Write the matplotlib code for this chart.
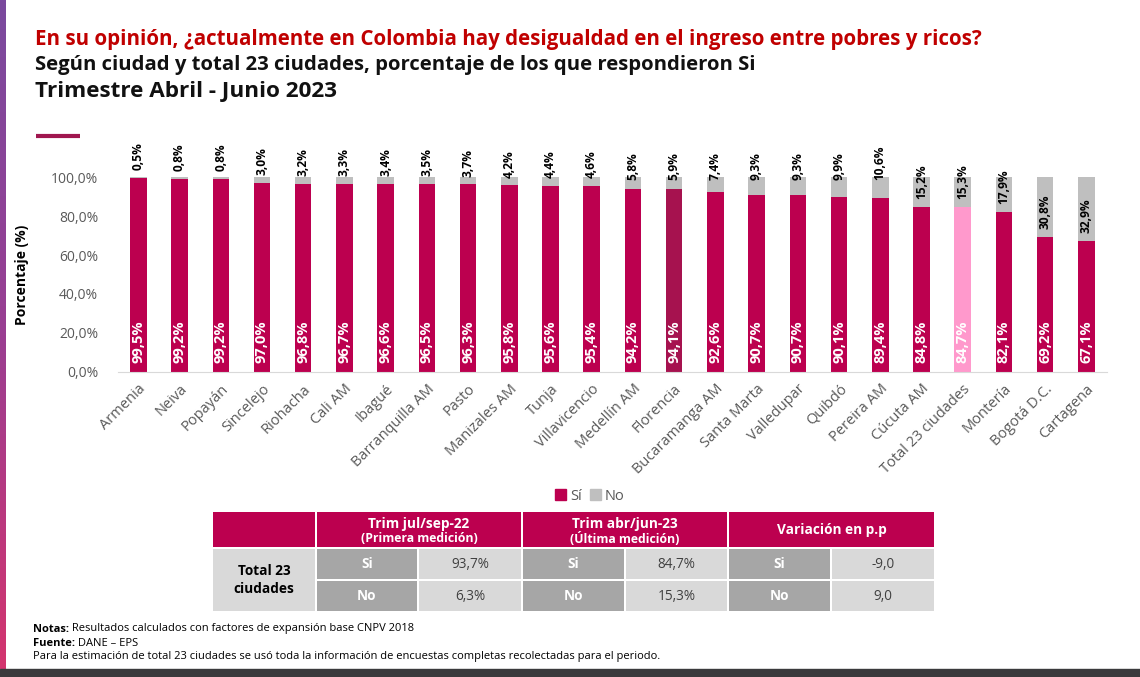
import numpy as np
import matplotlib
matplotlib.use("Agg")
import matplotlib.pyplot as plt
from matplotlib.patches import Rectangle

plt.rcParams['font.family'] = ['Open Sans', 'DejaVu Sans']

# datos
ciudades = ["Armenia", "Neiva", "Popayán", "Sincelejo", "Riohacha", "Cali AM", "Ibagué",
            "Barranquilla AM", "Pasto", "Manizales AM", "Tunja", "Villavicencio",
            "Medellín AM", "Florencia", "Bucaramanga AM", "Santa Marta", "Valledupar",
            "Quibdó", "Pereira AM", "Cúcuta AM", "Total 23 ciudades", "Montería",
            "Bogotá D.C.", "Cartagena"]
si = [99.5, 99.2, 99.2, 97.0, 96.8, 96.7, 96.6, 96.5, 96.3, 95.8, 95.6, 95.4,
      94.2, 94.1, 92.6, 90.7, 90.7, 90.1, 89.4, 84.8, 84.7, 82.1, 69.2, 67.1]
no = [0.5, 0.8, 0.8, 3.0, 3.2, 3.3, 3.4, 3.5, 3.7, 4.2, 4.4, 4.6,
      5.8, 5.9, 7.4, 9.3, 9.3, 9.9, 10.6, 15.2, 15.3, 17.9, 30.8, 32.9]

periodos = ["Trim jul/sep-22", "Trim abr/jun-23", "Variación en p.p"]
periodos_sub = ["(Primera medición)", "(Última medición)", ""]
primera = {"Si": 93.7, "No": 6.3}
ultima = {"Si": 84.7, "No": 15.3}

C_SI = "#BC004F"
C_FLOR = "#A6124F"
C_TOTAL = "#FF99CC"
C_NO = "#BFBFBF"
GRIS_TXT = "#595959"

def coma(v, dec=1, pct=True):
    s = f"{v:.{dec}f}".replace(".", ",")
    return s + "%" if pct else s

W, H = 1140, 677
fig = plt.figure(figsize=(W / 100, H / 100), dpi=100)

# capa de fondo en pixeles
bg = fig.add_axes([0, 0, 1, 1])
bg.set_xlim(0, W)
bg.set_ylim(H, 0)
bg.axis("off")

# franja lateral con degradado
grad = np.linspace(0, 1, 256).reshape(-1, 1)
cmap = matplotlib.colors.LinearSegmentedColormap.from_list("f", ["#7A4A9E", "#9A3E92", "#D4346E"])
bg.imshow(grad, cmap=cmap, extent=[0, 6, H - 8, 0], aspect="auto", zorder=1)
bg.add_patch(Rectangle((0, H - 8), W, 8, color="#3A3A3C", zorder=1))

# titulos
bg.text(35, 45, "En su opinión, ¿actualmente en Colombia hay desigualdad en el ingreso entre pobres y ricos?",
        color="#C00000", fontsize=14.8, fontweight="bold", va="baseline")
bg.text(35, 70, "Según ciudad y total 23 ciudades, porcentaje de los que respondieron Si",
        color="#111111", fontsize=14.6, fontweight="bold", va="baseline")
bg.text(35, 97, "Trimestre Abril - Junio 2023",
        color="#111111", fontsize=16.2, fontweight="bold", va="baseline")
bg.plot([36, 80], [136, 136], color="#A0174F", lw=3, solid_capstyle="butt")

# grafico de barras
ax = fig.add_axes([117.7 / W, (H - 371.7) / H, (1107 - 117.7) / W, 194.4 / H])
x = np.arange(len(ciudades))
colores = [C_SI] * len(ciudades)
colores[ciudades.index("Florencia")] = C_FLOR
colores[ciudades.index("Total 23 ciudades")] = C_TOTAL
ax.bar(x, si, width=0.4, color=colores, zorder=2)
ax.bar(x, no, bottom=si, width=0.4, color=C_NO, zorder=2)

for i in range(len(ciudades)):
    ax.text(x[i], 4.5, coma(si[i]), rotation=90, ha="center", va="bottom",
            color="white", fontsize=10.5, fontweight="bold", zorder=3)
    if no[i] >= 15:
        yb = si[i] + 4
    else:
        yb = max(si[i] + 4, 98.5)
    ax.text(x[i], yb, coma(no[i]), rotation=90, ha="center", va="bottom",
            color="black", fontsize=8.6, fontweight="bold", zorder=3)

ax.set_xlim(-0.5, len(ciudades) - 0.5)
ax.set_ylim(0, 100)
ax.set_yticks(np.arange(0, 101, 20))
ax.set_yticklabels([coma(v) for v in np.arange(0, 101, 20)])
ax.set_xticks(x)
ax.set_xticklabels(ciudades, rotation=45, ha="right", rotation_mode="anchor")
ax.tick_params(axis="y", length=0, pad=14, labelsize=10, labelcolor=GRIS_TXT)
ax.tick_params(axis="x", length=0, pad=7, labelsize=10.5, labelcolor=GRIS_TXT)
for s in ["top", "right", "left"]:
    ax.spines[s].set_visible(False)
ax.spines["bottom"].set_color("#D9D9D9")
ax.set_ylabel("Porcentaje (%)", fontsize=10, fontweight="bold", labelpad=16)

h1 = Rectangle((0, 0), 1, 1, color=C_SI)
h2 = Rectangle((0, 0), 1, 1, color=C_NO)
fig.legend([h1, h2], ["Sí", "No"], loc="center", bbox_to_anchor=(590 / W, 1 - 496 / H),
           ncol=2, frameon=False, fontsize=10.5, handlelength=0.7, handleheight=0.7,
           handletextpad=0.3, columnspacing=0.6, labelcolor=GRIS_TXT)

# tabla
xs = [212, 316, 418, 522, 625, 728, 831, 935]
ys = [511, 548, 580, 612]
g = 1.0

def celda(x0, y0, x1, y1, color):
    bg.add_patch(Rectangle((x0 + g, y0 + g), x1 - x0 - 2 * g, y1 - y0 - 2 * g,
                           color=color, zorder=2, lw=0))

celda(xs[0], ys[0], xs[1], ys[1], C_SI)
for k in range(3):
    xa, xb = xs[1 + 2 * k], xs[3 + 2 * k]
    celda(xa, ys[0], xb, ys[1], C_SI)
    xm = (xa + xb) / 2
    if periodos_sub[k]:
        bg.text(xm, 524, periodos[k], ha="center", va="center", color="white",
                fontsize=9.8, fontweight="bold", zorder=3)
        bg.text(xm, 539, periodos_sub[k], ha="center", va="center", color="white",
                fontsize=8.8, fontweight="bold", zorder=3)
    else:
        bg.text(xm, 530, periodos[k], ha="center", va="center", color="white",
                fontsize=9.8, fontweight="bold", zorder=3)

celda(xs[0], ys[1], xs[1], ys[3], "#D9D9D9")
bg.text((xs[0] + xs[1]) / 2, (ys[1] + ys[3]) / 2, "Total 23\nciudades", ha="center", va="center",
        fontsize=9.8, fontweight="bold", color="black", linespacing=1.3, zorder=3)

variacion = {r: ultima[r] - primera[r] for r in ["Si", "No"]}
for j, r in enumerate(["Si", "No"]):
    vals = [coma(primera[r]), coma(ultima[r]), coma(variacion[r], pct=False)]
    for k in range(3):
        xa, xm, xb = xs[1 + 2 * k], xs[2 + 2 * k], xs[3 + 2 * k]
        celda(xa, ys[1 + j], xm, ys[2 + j], "#A6A6A6")
        celda(xm, ys[1 + j], xb, ys[2 + j], "#D9D9D9")
        yc = (ys[1 + j] + ys[2 + j]) / 2
        bg.text((xa + xm) / 2, yc, r, ha="center", va="center", color="white",
                fontsize=9.8, fontweight="bold", zorder=3)
        bg.text((xm + xb) / 2, yc, vals[k], ha="center", va="center", color="#404040",
                fontsize=9.8, zorder=3)

# notas
fig.canvas.draw()
rend = fig.canvas.get_renderer()
notas = [("Notas:", " Resultados calculados con factores de expansión base CNPV 2018"),
         ("Fuente:", " DANE – EPS"),
         ("", "Para la estimación de total 23 ciudades se usó toda la información de encuestas completas recolectadas para el periodo.")]
for n, (b, r) in enumerate(notas):
    yy = 629 + 14 * n
    x0 = 33
    if b:
        t = bg.text(x0, yy, b, fontsize=8, fontweight="bold", va="center", color="black")
        bb = t.get_window_extent(renderer=rend)
        x0 = x0 + bb.width
    bg.text(x0, yy, r, fontsize=8, va="center", color="black")

fig.savefig("out.png", dpi=100, facecolor="white")
